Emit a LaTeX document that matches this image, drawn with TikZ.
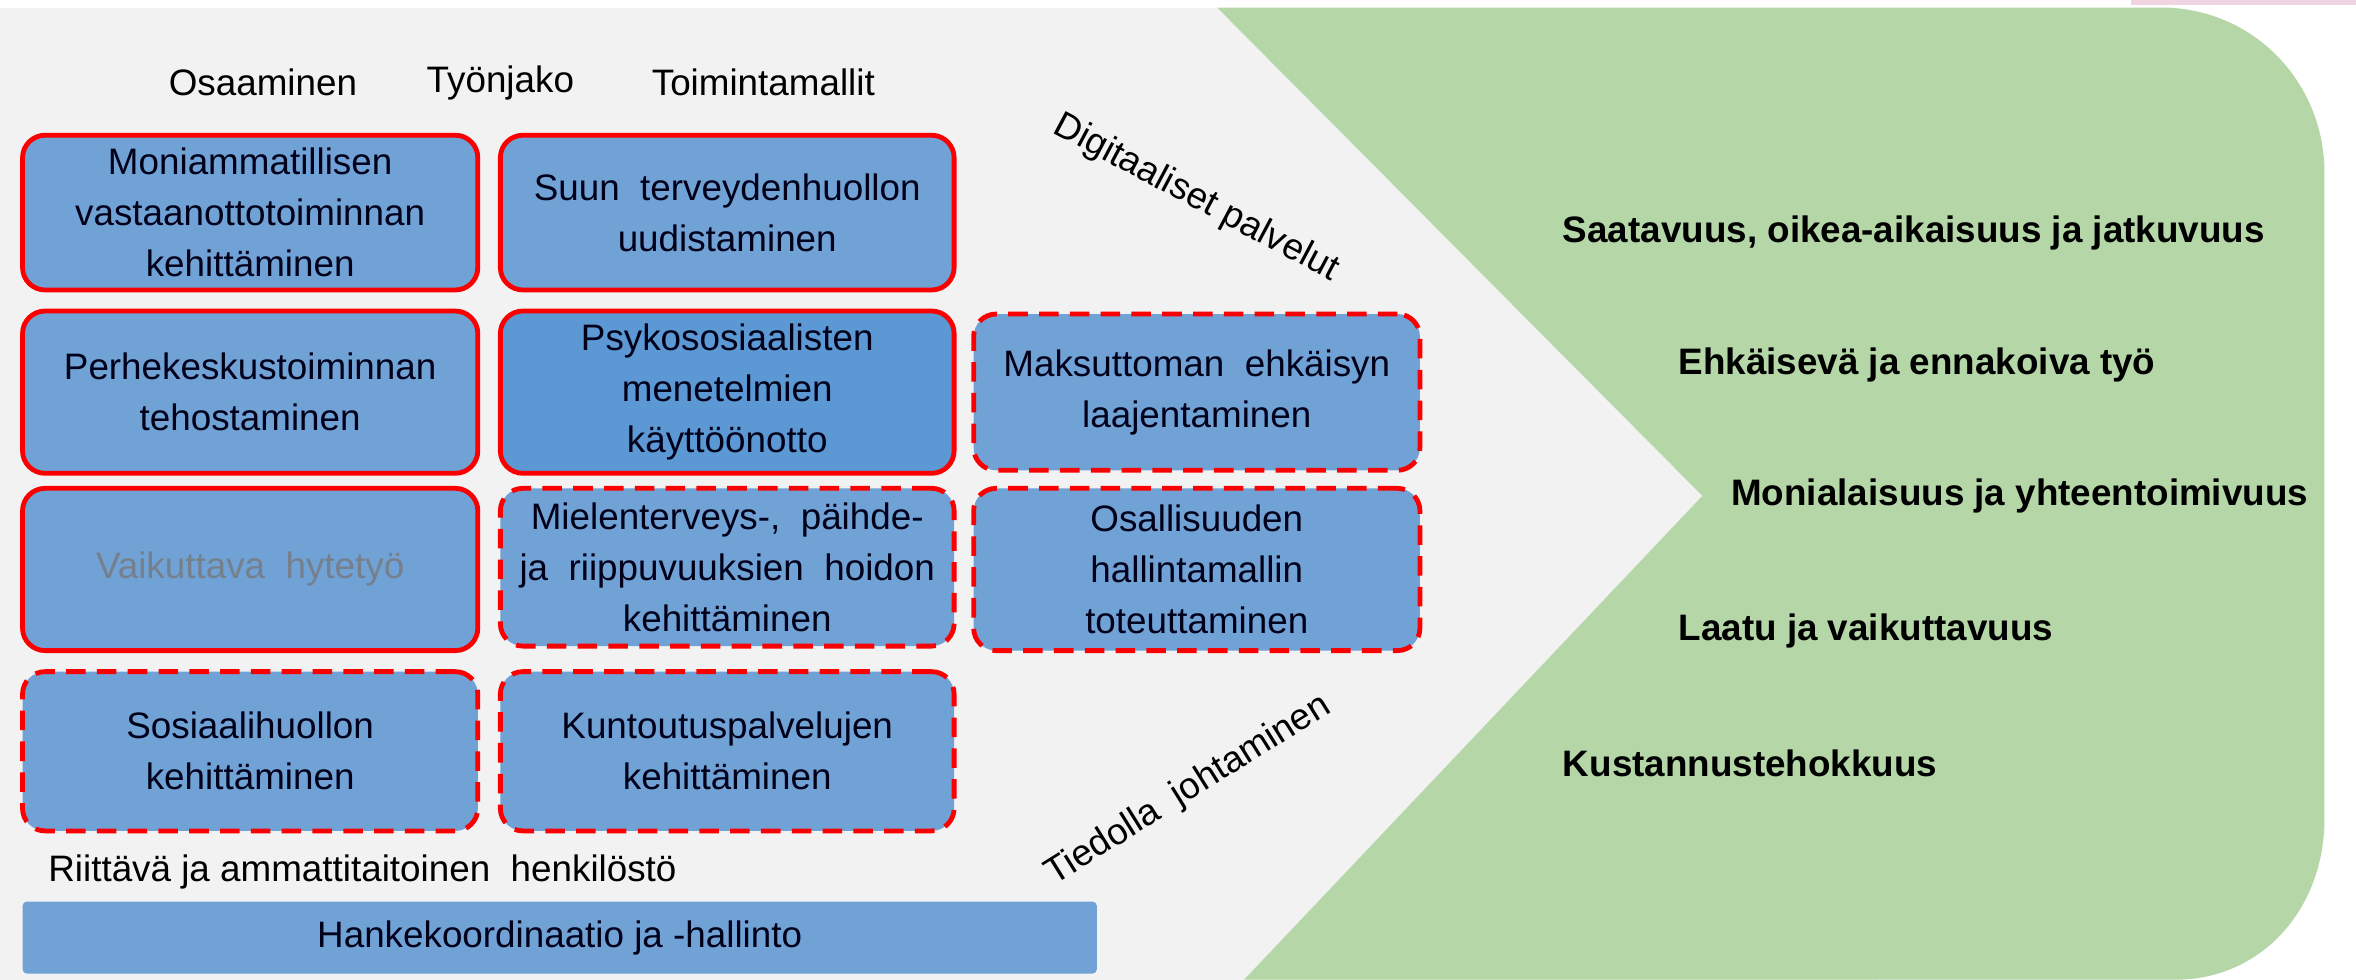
\documentclass[tikz,border=0pt]{standalone}
\usepackage{fontspec}
\setmainfont{Liberation Sans}
\definecolor{bggrey}{RGB}{242,242,242}
\definecolor{leafgreen}{RGB}{181,215,168}
\definecolor{boxblue}{RGB}{112,162,214}
\definecolor{boxdark}{RGB}{91,152,212}
\definecolor{redline}{RGB}{250,0,0}
\definecolor{greytext}{RGB}{118,128,140}
\definecolor{pinkstrip}{RGB}{240,212,226}
\tikzset{
  boxbase/.style={fill=boxblue, rounded corners=15pt, line width=3.2pt, draw=redline,
    align=center, inner sep=0pt, font=\fontsize{24.5}{34}\selectfont, text=black!90!blue},
  solidbox/.style={boxbase},
  dashbox/.style={boxbase, dash pattern=on 13pt off 7.5pt},
  plain/.style={inner sep=0pt, font=\fontsize{24.5}{34}\selectfont, text=black},
  goal/.style={inner sep=0pt, anchor=west, font=\fontsize{24.5}{30}\bfseries\selectfont, text=black}
}
\begin{document}
\begin{tikzpicture}[x={(1pt,0pt)}, y={(0pt,-1pt)}]
\useasboundingbox (0,0) rectangle (1568,652);
% backgrounds
\fill[white] (0,0) rectangle (1568,652);
\fill[bggrey] (0,5) rectangle (1250,652);
\fill[pinkstrip] (1418,0) rectangle (1568,3);
\fill[leafgreen] (810,5) -- (1438,5) .. controls (1500,5) and (1547,55) .. (1547,115)
  -- (1547,545) .. controls (1547,605) and (1505,652) .. (1448,652)
  -- (828,652) -- (1133,330) -- cycle;
% headers
\node[plain] (h1) at (175,55) {Osaaminen};
\node[plain] (h2) at (333,55) {Työnjako};
\node[plain] (h3) at (508,55) {Toimintamallit};
% boxes
\node[solidbox, minimum width=303pt, minimum height=103pt] (a) at (166.5,141.5)
  {Moniammatillisen\\vastaanottotoiminnan\\kehittäminen};
\node[solidbox, minimum width=302pt, minimum height=103pt] (b) at (484,141.5)
  {Suun\ \ terveydenhuollon\\uudistaminen};
\node[solidbox, minimum width=303pt, minimum height=108pt] (c) at (166.5,261)
  {Perhekeskustoiminnan\\tehostaminen};
\node[solidbox, fill=boxdark, minimum width=302pt, minimum height=108pt] (d) at (484,261)
  {Psykososiaalisten\\menetelmien\\käyttöönotto};
\node[dashbox, minimum width=297pt, minimum height=104pt] (e) at (796.5,261)
  {Maksuttoman\ \ ehkäisyn\\laajentaminen};
\node[solidbox, text=greytext, minimum width=303pt, minimum height=108pt] (f) at (166.5,379)
  {Vaikuttava\ \ hytetyö};
\node[dashbox, minimum width=302pt, minimum height=105pt] (g) at (484,377.5)
  {Mielenterveys-,\ \ päihde-\\ja\ \ riippuvuuksien\ \ hoidon\\kehittäminen};
\node[dashbox, minimum width=297pt, minimum height=108pt] (hh) at (796.5,379)
  {Osallisuuden\\hallintamallin\\toteuttaminen};
\node[dashbox, minimum width=303pt, minimum height=106pt] (i) at (166.5,500)
  {Sosiaalihuollon\\kehittäminen};
\node[dashbox, minimum width=302pt, minimum height=106pt] (j) at (484,500)
  {Kuntoutuspalvelujen\\kehittäminen};
% staff text and bar
\node[plain, anchor=west] (staff) at (32,580) {Riittävä\ ja\ ammattitaitoinen\ \ henkilöstö};
\node[fill=boxblue, rounded corners=3pt, minimum width=715pt, minimum height=48pt, inner sep=0pt,
  font=\fontsize{24.5}{34}\selectfont, text=black!90!blue] (bar) at (372.5,624) {Hankekoordinaatio\ ja\ -hallinto};
% rotated texts
\node[plain, rotate=-28] (dig) at (796,132) {Digitaaliset palvelut};
\node[plain, rotate=32] (tied) at (791,526) {Tiedolla\ \ johtaminen};
% goals
\node[goal] (g1) at (1040,155) {Saatavuus, oikea-aikaisuus ja jatkuvuus};
\node[goal] (g2) at (1117,243) {Ehkäisevä ja ennakoiva työ};
\node[goal] (g3) at (1152,330) {Monialaisuus ja yhteentoimivuus};
\node[goal] (g4) at (1117,420) {Laatu ja vaikuttavuus};
\node[goal] (g5) at (1040,508) {Kustannustehokkuus};
\end{tikzpicture}
\end{document}
